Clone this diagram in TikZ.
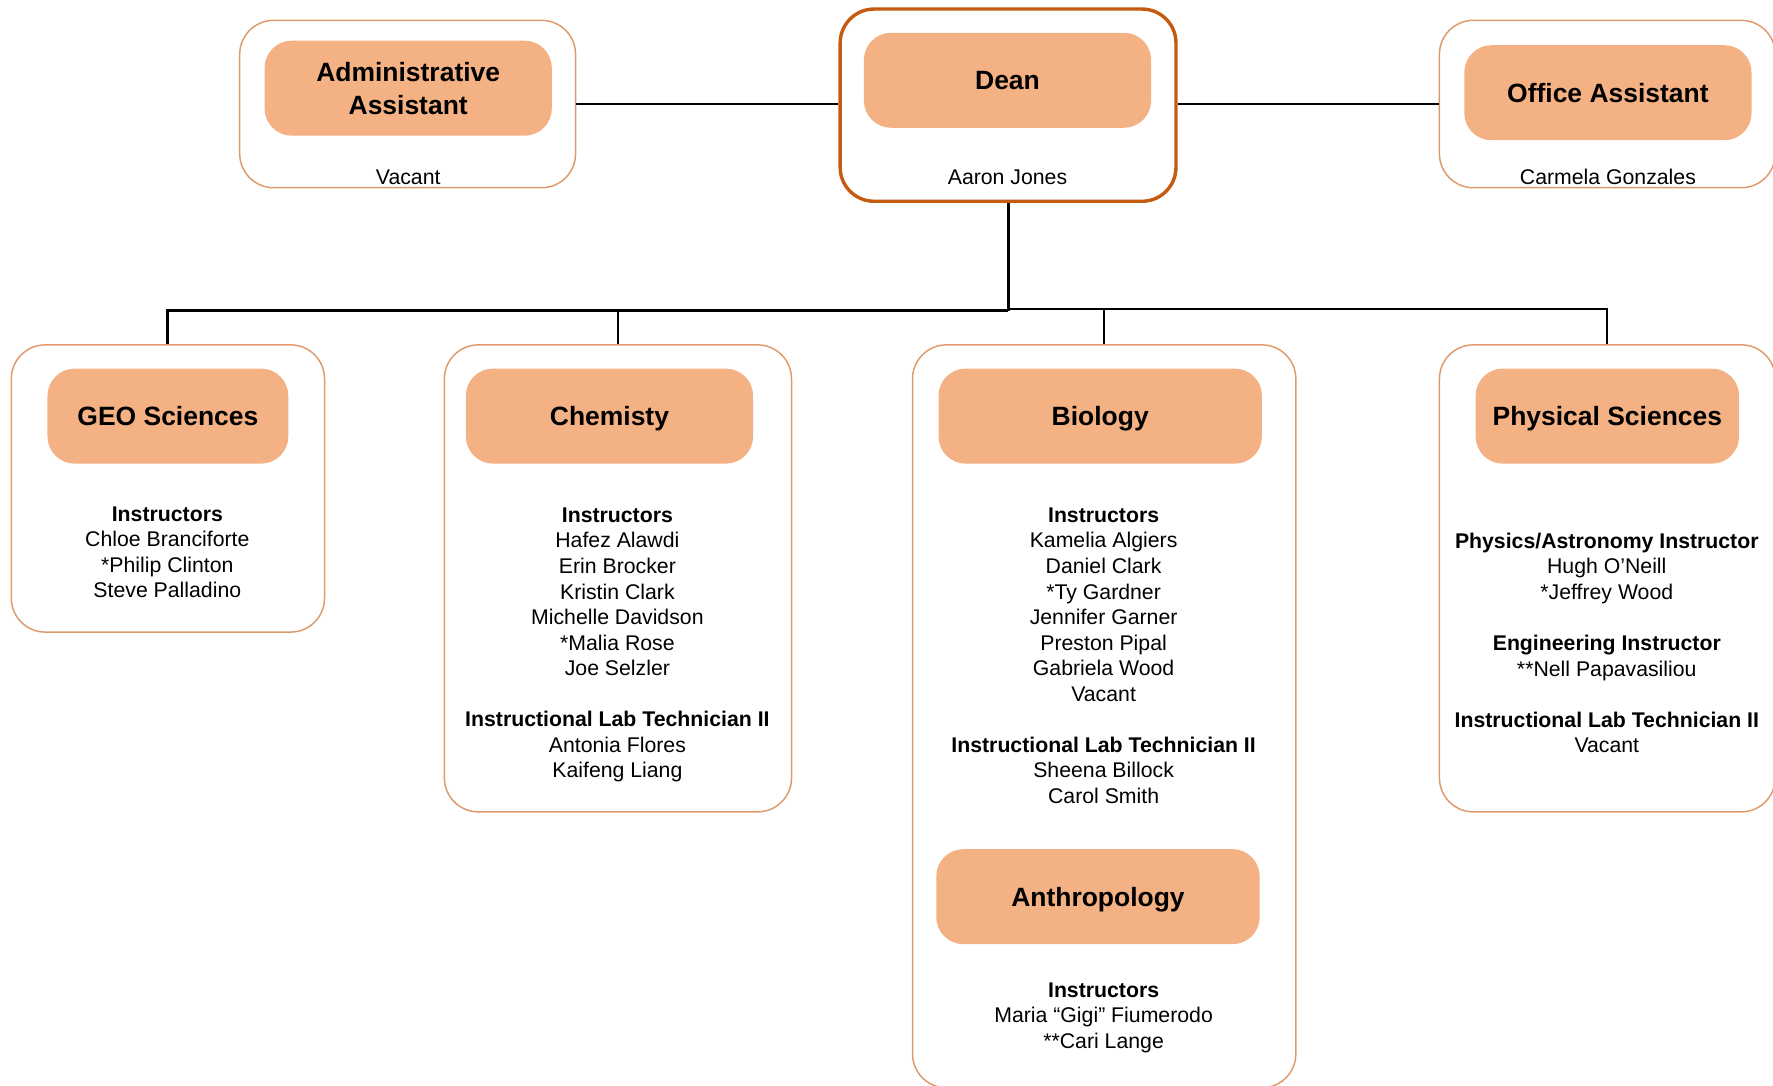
\documentclass[tikz,border=0pt]{standalone}
\usepackage{fontspec}
\setmainfont{Liberation Sans}
\definecolor{boxfill}{HTML}{F4B183}
\definecolor{deanedge}{HTML}{C55A11}
\definecolor{outeredge}{HTML}{DE9A6A}
\newcommand\myTitleFont{\fontsize{23.4}{29}\selectfont\bfseries}
\newcommand\myBodyFont{\fontsize{18.8}{22.6}\selectfont}
\tikzset{
  outerbox/.style={draw=outeredge, line width=1.3pt, rounded corners=30pt, fill=white, inner sep=0pt},
  deanbox/.style={outerbox, draw=deanedge, line width=3pt},
  headbox/.style={fill=boxfill, rounded corners=24pt, inner sep=0pt, font=\myTitleFont, align=center, minimum height=84pt},
  onehead/.style={headbox, text height=16.8pt, text depth=0pt},
  body/.style={font=\myBodyFont, align=center, inner sep=0pt, anchor=base},
  bus/.style={line width=2.6pt, black},
  drop/.style={line width=1.8pt, black},
  side/.style={line width=2.6pt, black},
}
\begin{document}
\begin{tikzpicture}[x=1pt, y=-1pt]
\useasboundingbox (0,0) rectangle (1568,960);
\clip (0,0) rectangle (1568,960);

% top row outer boxes
\node[outerbox, minimum width=297pt, minimum height=148pt] (admin) at (360.5,92) {};
\node[deanbox, minimum width=297pt, minimum height=170pt] (dean) at (891.5,93) {};
\node[outerbox, minimum width=297pt, minimum height=148pt] (office) at (1421.5,92) {};

% department outer boxes
\node[outerbox, minimum width=277pt, minimum height=254pt] (geo) at (148.5,432) {};
\node[outerbox, minimum width=307pt, minimum height=413pt] (chem) at (546.5,511.5) {};
\node[outerbox, minimum width=339pt, minimum height=657pt] (bio) at (976.5,633.5) {};
\node[outerbox, minimum width=297pt, minimum height=413pt] (phys) at (1421.5,511.5) {};

% heading boxes
\node[headbox, minimum width=254pt] (adminhead) at (361,78) {Administrative\\Assistant};
\node[onehead, minimum width=254pt] (deanhead) at (891,71) {Dean};
\node[onehead, minimum width=254pt] (officehead) at (1422,82) {Office Assistant};
\node[onehead, minimum width=213pt] (geohead) at (148.5,368) {GEO Sciences};
\node[onehead, minimum width=254pt] (chemhead) at (539,368) {Chemisty};
\node[onehead, minimum width=286pt] (biohead) at (973,368) {Biology};
\node[onehead, minimum width=286pt] (anthhead) at (971,793) {Anthropology};
\node[onehead, minimum width=233pt] (physhead) at (1421.5,368) {Physical Sciences};

% names in top boxes
\node[body] (adminname) at (361,163) {Vacant};
\node[body] (deanname) at (891,163) {Aaron Jones};
\node[body] (officename) at (1422,163) {Carmela Gonzales};

% department texts (anchored at the baseline of the last line)
\node[body] (geotext) at (148,528.8) {\textbf{Instructors}\\Chloe Branciforte\\*Philip Clinton\\Steve Palladino};
\node[body] (chemtext) at (546,688) {\textbf{Instructors}\\Hafez Alawdi\\Erin Brocker\\Kristin Clark\\Michelle Davidson\\*Malia Rose\\Joe Selzler\\[22.6pt]\textbf{Instructional Lab Technician II}\\Antonia Flores\\Kaifeng Liang};
\node[body] (biotext) at (976,710.6) {\textbf{Instructors}\\Kamelia Algiers\\Daniel Clark\\*Ty Gardner\\Jennifer Garner\\Preston Pipal\\Gabriela Wood\\Vacant\\[22.6pt]\textbf{Instructional Lab Technician II}\\Sheena Billock\\Carol Smith};
\node[body] (anthtext) at (976,927.2) {\textbf{Instructors}\\Maria “Gigi” Fiumerodo\\**Cari Lange};
\node[body] (phystext) at (1421,665.8) {\textbf{Physics/Astronomy Instructor}\\Hugh O’Neill\\*Jeffrey Wood\\[22.6pt]\textbf{Engineering Instructor}\\**Nell Papavasiliou\\[22.6pt]\textbf{Instructional Lab Technician II}\\Vacant};

% connectors
\coordinate (jL) at (891.5,274.8);
\coordinate (jR) at (891.5,273);
\draw[side] (admin.east) -- (admin.east -| dean.west);
\draw[side] (dean.east |- office.west) -- (office.west);
\draw[bus] (dean.south) -- (jL);
\draw[bus] (jL) -| (geo.north);
\draw[drop] (jL -| chem.north) -- (chem.north);
\draw[drop] (jR) -| (phys.north);
\draw[drop] (jR -| bio.north) -- (bio.north);
\end{tikzpicture}
\end{document}
